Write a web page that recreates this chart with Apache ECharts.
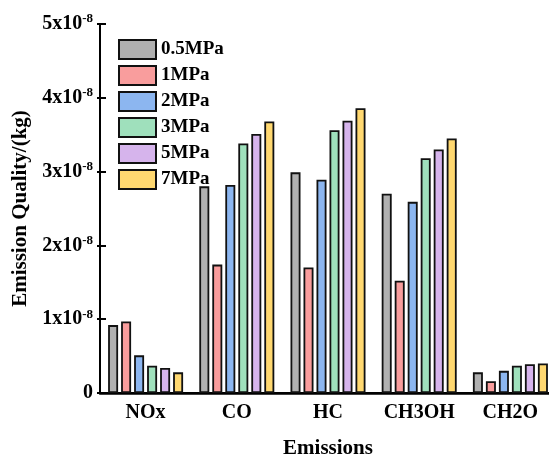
<!DOCTYPE html>
<html><head><meta charset="utf-8">
<script src="https://cdn.jsdelivr.net/npm/echarts@6/dist/echarts.min.js"></script>
<style>html,body{margin:0;padding:0;background:#fff}#c{width:549px;height:455px}</style>
</head><body><div id="c"></div>
<script>
const categories = ['NOx','CO','HC','CH3OH','CH2O'];
const seriesNames = ['0.5MPa','1MPa','2MPa','3MPa','5MPa','7MPa'];
const s05 = [0.92e-8, 2.80e-8, 2.99e-8, 2.70e-8, 0.28e-8];
const s1  = [0.97e-8, 1.74e-8, 1.70e-8, 1.52e-8, 0.16e-8];
const s2  = [0.51e-8, 2.82e-8, 2.89e-8, 2.59e-8, 0.30e-8];
const s3  = [0.37e-8, 3.38e-8, 3.56e-8, 3.18e-8, 0.37e-8];
const s5  = [0.34e-8, 3.51e-8, 3.69e-8, 3.30e-8, 0.39e-8];
const s7  = [0.28e-8, 3.68e-8, 3.86e-8, 3.45e-8, 0.40e-8];
const colors = ['#b0b0b0','#f99d9d','#8cb6f0','#9fe0bc','#d6b4ec','#ffd870'];
const allData = [s05,s1,s2,s3,s5,s7];
const FONT = '"Liberation Serif","Times New Roman",serif';

const chart = echarts.init(document.getElementById('c'));
chart.setOption({
  animation:false,
  textStyle:{fontFamily:FONT},
  grid:{left:100, top:24, bottom:62, right:-7, containLabel:false, outerBoundsMode:'none'},
  legend:{
    orient:'vertical', left:113, top:34, itemWidth:37, itemHeight:19, itemGap:5,
    icon:'rect',
    textStyle:{fontFamily:FONT, fontWeight:'bold', fontSize:19, color:'#000'},
    data:seriesNames
  },
  xAxis:[{
    type:'category', data:categories,
    name:'Emissions', nameLocation:'middle', nameGap:45,
    nameTextStyle:{fontFamily:FONT, fontWeight:'bold', fontSize:21, color:'#000'},
    axisLine:{lineStyle:{color:'#000', width:2.5}},
    axisTick:{show:false},
    axisLabel:{interval:0, hideOverlap:false, fontFamily:FONT, fontWeight:'bold', fontSize:20, color:'#000', margin:10}
  },{
    type:'category', data:categories, position:'top',
    axisLine:{lineStyle:{color:'#000', width:2}},
    axisTick:{show:false}, axisLabel:{show:false}
  }],
  yAxis:[{
    type:'value', min:0, max:5e-8, interval:1e-8,
    name:'Emission Quality/(kg)', nameLocation:'middle', nameGap:62,
    nameTextStyle:{fontFamily:FONT, fontWeight:'bold', fontSize:21, color:'#000'},
    splitLine:{show:false},
    axisLine:{show:true, lineStyle:{color:'#000', width:2}},
    axisTick:{show:true, inside:true, length:6, lineStyle:{color:'#000', width:2}},
    axisLabel:{
      margin:7, color:'#000',
      formatter:function(v){
        const n = Math.round(v/1e-8);
        if(n===0) return '{b|0}';
        return '{b|'+n+'x10}{s|-8}';
      },
      rich:{
        b:{fontFamily:FONT, fontWeight:'bold', fontSize:20, color:'#000'},
        s:{fontFamily:FONT, fontWeight:'bold', fontSize:13, color:'#000', verticalAlign:'top', padding:[0,0,10,0]}
      }
    }
  },{
    type:'value', min:0, max:5e-8, interval:1e-8, position:'left',
    splitLine:{show:false}, axisLine:{show:false}, axisLabel:{show:false},
    axisTick:{show:true, inside:false, length:3, lineStyle:{color:'#000', width:2}}
  }],
  series: seriesNames.map((nm,i)=>({
    name:nm, type:'bar', data:allData[i], xAxisIndex:0, yAxisIndex:0,
    barWidth:10, barGap:'30%',
    itemStyle:{color:colors[i], borderColor:'#111', borderWidth:1.8}
  }))
});
</script></body></html>
